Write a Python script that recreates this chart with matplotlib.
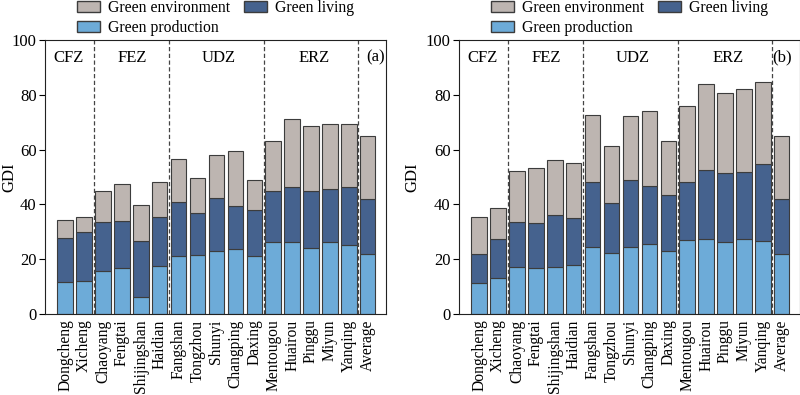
import matplotlib
matplotlib.use('Agg')
import matplotlib.pyplot as plt
import numpy as np
from matplotlib.patches import Patch

plt.rcParams['font.family'] = 'serif'
plt.rcParams['font.serif'] = ['Liberation Serif', 'DejaVu Serif']
plt.rcParams['font.size'] = 12

districts = ['Dongcheng', 'Xicheng', 'Chaoyang', 'Fengtai', 'Shijingshan', 'Haidian',
             'Fangshan', 'Tongzhou', 'Shunyi', 'Changping', 'Daxing',
             'Mentougou', 'Huairou', 'Pinggu', 'Miyun', 'Yanqing', 'Average']

# stack tops
prod_a = [11.7, 12.2, 15.8, 16.7, 6.1, 17.5, 21.0, 21.4, 23.0, 23.6, 21.3,
          26.4, 26.2, 24.2, 26.2, 25.1, 21.8]
living_top_a = [27.7, 29.8, 33.5, 33.8, 26.8, 35.3, 41.0, 36.7, 42.5, 39.4, 38.0,
                45.0, 46.2, 44.8, 45.5, 46.2, 42.1]
env_top_a = [34.2, 35.5, 45.0, 47.3, 39.8, 48.3, 56.4, 49.8, 58.2, 59.6, 49.0,
             63.3, 71.3, 68.7, 69.2, 69.2, 65.1]

prod_b = [11.2, 13.0, 17.0, 16.7, 17.3, 17.8, 24.5, 22.4, 24.3, 25.4, 22.9,
          26.9, 27.3, 26.3, 27.3, 26.8, 21.8]
living_top_b = [21.8, 27.5, 33.6, 33.2, 36.0, 34.9, 48.1, 40.5, 48.8, 46.7, 43.6,
                48.3, 52.4, 51.3, 51.8, 54.6, 42.0]
env_top_b = [35.4, 38.7, 52.1, 53.3, 56.2, 55.2, 72.6, 61.2, 72.1, 74.0, 63.1,
             75.9, 83.8, 80.7, 82.1, 84.5, 65.1]

zones = ['CFZ', 'FEZ', 'UDZ', 'ERZ']
zone_pos = [0.2, 3.55, 8.1, 13.15]
dividers = [1.5, 5.5, 10.5, 15.5]

c_prod = '#6dabd8'
c_living = '#45628e'
c_env = '#bdb5b1'
edge = '#3c3c3c'

fig = plt.figure(figsize=(8, 3.95), dpi=100)
ax_a = fig.add_axes([45 / 800, 1 - 314 / 395, 341 / 800, 274 / 395])
ax_b = fig.add_axes([459 / 800, 1 - 314 / 395, 341 / 800, 274 / 395])


def panel(ax, prod, living_top, env_top, tag, tag_x, ylab_x):
    x = np.arange(len(districts))
    prod = np.array(prod)
    living = np.array(living_top) - prod
    env = np.array(env_top) - np.array(living_top)
    w = 0.82
    ax.bar(x, prod, w, color=c_prod, edgecolor=edge, linewidth=0.8)
    ax.bar(x, living, w, bottom=prod, color=c_living, edgecolor=edge, linewidth=0.8)
    ax.bar(x, env, w, bottom=prod + living, color=c_env, edgecolor=edge, linewidth=0.8)
    for d in dividers:
        ax.axvline(d, color='#444444', linestyle=(0, (3.4, 2.0)), linewidth=0.9)
    for z, p in zip(zones, zone_pos):
        ax.text(p, 93.5, z, ha='center', va='center', fontsize=12)
    ax.text(tag_x, 93.5, tag, ha='center', va='center', fontsize=12)
    ax.set_xlim(-1.07, 16.97)
    ax.set_ylim(0, 100)
    ax.set_yticks([0, 20, 40, 60, 80, 100])
    ax.set_xticks(x)
    ax.set_xticklabels(districts, rotation=90, fontsize=11.2)
    ax.tick_params(axis='x', length=0, pad=4)
    ax.tick_params(axis='y', direction='out', length=4, labelsize=12, pad=2)
    ax.set_ylabel('GDI', fontsize=12)
    ax.yaxis.set_label_coords(ylab_x, 0.5)
    for s in ax.spines.values():
        s.set_color('#222222')
    handles = [Patch(facecolor=c_env, edgecolor=edge, label='Green environment'),
               Patch(facecolor=c_prod, edgecolor=edge, label='Green production'),
               Patch(facecolor=c_living, edgecolor=edge, label='Green living')]
    ax.legend(handles=handles, ncol=2, loc='upper center', bbox_to_anchor=(0.5, 1 + 40 / 274),
              frameon=False, fontsize=11.3, handlelength=1.5, handleheight=0.7,
              columnspacing=0.85, labelspacing=0.25, borderpad=0.0, borderaxespad=0.0,
              handletextpad=0.5)


panel(ax_a, prod_a, living_top_a, env_top_a, '(a)', 16.4, -0.08)
panel(ax_b, prod_b, living_top_b, env_top_b, '(b)', 16.0, -0.112)

fig.savefig('out.png', dpi=100)
